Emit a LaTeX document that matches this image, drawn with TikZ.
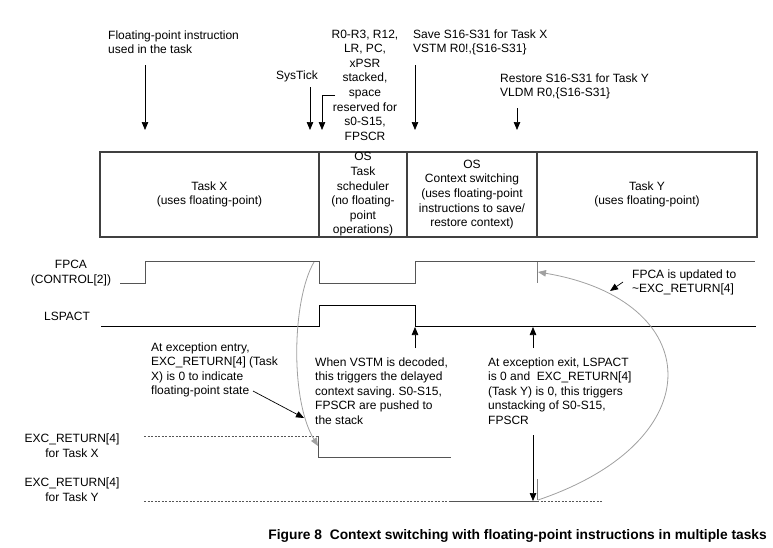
\documentclass[tikz,border=0pt]{standalone}
\usepackage{fontspec}
\setmainfont{Liberation Sans}
\usetikzlibrary{arrows.meta}
\definecolor{boxline}{HTML}{404040}
\definecolor{sig}{HTML}{555555}
\definecolor{curve}{HTML}{A0A0A0}
\frenchspacing
\begin{document}
\begin{tikzpicture}[x=1pt,y=-1pt,
  font=\fontsize{12}{14.6}\selectfont,
  lbl/.style={inner sep=0pt, align=left, anchor=base west},
  clbl/.style={inner sep=0pt, align=center, anchor=base},
  cell/.style={draw=boxline, line width=1.1pt, inner sep=0pt, minimum height=85pt, align=center},
  ptr/.style={black, line width=0.7pt, -{Triangle[length=8pt,width=6.5pt]}},
  wave/.style={sig, line width=1pt},
  wave2/.style={black, line width=0.8pt},
  dashln/.style={sig, line width=0.8pt, dash pattern=on 2pt off 1.5pt},
  gcurve/.style={curve, line width=0.8pt, -{Triangle[length=8pt,width=6.5pt]}},
  gtick/.style={curve!80!black, line width=1pt}
]
\useasboundingbox (0,0) rectangle (773,547);

% top annotations (anchor = baseline of last line)
\node[lbl] (tFP) at (108,53.6) {Floating-point instruction\\used in the task};
\node[clbl] (tSys) at (297,79) {SysTick};
\node[clbl] (tR0) at (365,140.2) {R0-R3, R12,\\LR, PC,\\xPSR\\stacked,\\space\\reserved for\\s0-S15,\\FPSCR};
\node[lbl] (tSave) at (413,52.6) {Save S16-S31 for Task X\\VSTM R0!,\{S16-S31\}};
\node[lbl] (tRest) at (500,96.6) {Restore S16-S31 for Task Y\\VLDM R0,\{S16-S31\}};

\coordinate (a1s) at (145,65);  \coordinate (a1e) at (145,130);
\coordinate (a2s) at (310,87);  \coordinate (a2e) at (310,130);
\coordinate (a3s) at (335,95);  \coordinate (a3e) at (322,130);
\coordinate (a4s) at (415,65);  \coordinate (a4e) at (415,130);
\coordinate (a5s) at (517,108); \coordinate (a5e) at (517,130);
\draw[ptr] (a1s) -- (a1e);
\draw[ptr] (a2s) -- (a2e);
\draw[ptr] (a3s) -| (a3e);
\draw[ptr] (a4s) -- (a4e);
\draw[ptr] (a5s) -- (a5e);

% phase boxes
\node[cell, minimum width=219pt] (taskX) at (209.5,194.5) {Task X\\(uses floating-point)};
\node[cell, minimum width=88pt] (os1) at (363,194.5) {OS\\Task\\scheduler\\(no floating-\\point\\operations)};
\node[cell, minimum width=130pt] (os2) at (472,194.5) {OS\\Context switching\\(uses floating-point\\instructions to save/\\restore context)};
\node[cell, minimum width=220pt] (taskY) at (647,194.5) {Task Y\\(uses floating-point)};

% signal labels
\node[clbl] (lFPCA) at (71,283) {FPCA\\(CONTROL[2])};
\node[clbl] (lLSP) at (67,320) {LSPACT};
\node[clbl] (lEX) at (72,457) {EXC\_RETURN[4]\\for Task X};
\node[clbl] (lEY) at (72,501) {EXC\_RETURN[4]\\for Task Y};

% FPCA waveform
\coordinate (f0) at (120,283);
\coordinate (f1) at (145,261);
\coordinate (f2) at (319,283);
\coordinate (f3) at (415,261);
\coordinate (f4) at (755,261);
\draw[wave] (f0) -| (f1) -| (f2) -| (f3) -- (f4);

% LSPACT waveform
\coordinate (l0) at (101,326);
\coordinate (l1) at (319,305);
\coordinate (l2) at (415,326);
\coordinate (l3) at (756,326);
\draw[wave2] (l0) -| (l1) -| (l2) -- (l3);

% EXC_RETURN Task X
\coordinate (x0) at (144,436);
\coordinate (x1) at (318,436);
\coordinate (x2) at (318,457);
\coordinate (x3) at (451,457);
\draw[dashln] (x0) -- (x1);
\draw[wave] (x1) -- (x2) -- (x3);

% EXC_RETURN Task Y
\coordinate (y0) at (144,501);
\coordinate (y1) at (450,501);
\coordinate (y2) at (537,501);
\coordinate (y3) at (603,501);
\draw[dashln] (y0) -- (y1);
\draw[wave] (y1) -- (y2);
\draw[dashln] (y2) -- (y3);

% gray ticks
\coordinate (t1a) at (537,262); \coordinate (t1b) at (537,283);
\coordinate (t2a) at (537,479); \coordinate (t2b) at (537,500);
\draw[gtick] (t1a) -- (t1b);
\draw[gtick] (t2a) -- (t2b);

% notes
\node[lbl] (nEntry) at (151,394.8) {At exception entry,\\EXC\_RETURN[4] (Task\\X) is 0 to indicate\\floating-point state};
\node[lbl] (nVSTM) at (315,424.4) {When VSTM is decoded,\\this triggers the delayed\\context saving. S0-S15,\\FPSCR are pushed to\\the stack};
\node[lbl] (nExit) at (488,424.4) {At exception exit, LSPACT\\is 0 and\ \ EXC\_RETURN[4]\\(Task Y) is 0, this triggers\\unstacking of S0-S15,\\FPSCR};
\node[lbl] (nFPCA) at (632,292.6) {FPCA is updated to\\\textasciitilde EXC\_RETURN[4]};

% note arrows
\coordinate (u1s) at (415,348); \coordinate (u1e) at (415,327);
\coordinate (u2s) at (533,348); \coordinate (u2e) at (533,327);
\coordinate (d1s) at (533,435); \coordinate (d1e) at (533,501);
\coordinate (e1s) at (253,391); \coordinate (e1e) at (304,418);
\coordinate (n1s) at (623,282); \coordinate (n1e) at (610,291);
\draw[ptr] (u1s) -- (u1e);
\draw[ptr] (u2s) -- (u2e);
\draw[ptr] (d1s) -- (d1e);
\draw[ptr] (e1s) -- (e1e);
\draw[ptr] (n1s) -- (n1e);

% gray curves
\coordinate (c1s) at (314,262); \coordinate (c1e) at (318,446);
\draw[gcurve] (c1s) .. controls (292,300) and (290,400) .. (c1e);
\coordinate (c2s) at (538,500); \coordinate (c2e) at (538,272);
\draw[gcurve] (c2s) .. controls (715,440) and (705,300) .. (c2e);

% caption
\node[inner sep=0pt, anchor=base east, font=\bfseries\fontsize{13.8}{15}\selectfont] (cap) at (767,539) {Figure 8\ \ Context switching with floating-point instructions in multiple tasks};
\end{tikzpicture}
\end{document}
